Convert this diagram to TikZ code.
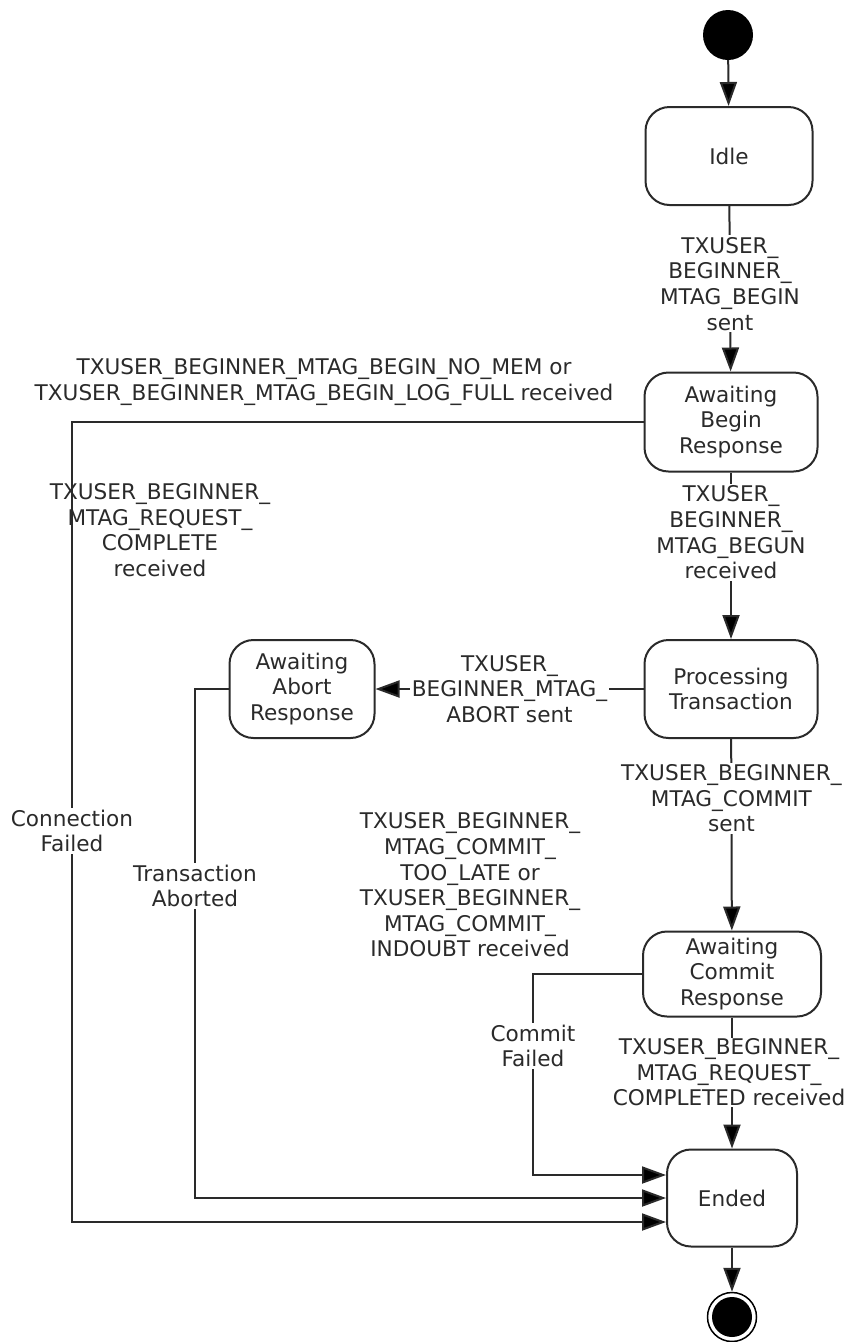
\documentclass[tikz,border=0pt]{standalone}
\usepackage{fontspec}
\setmainfont{DejaVu Sans}
\usetikzlibrary{arrows.meta}
\definecolor{ink}{HTML}{2A2A2A}
\tikzset{
  state/.style={draw=ink, line width=2pt, rounded corners=24pt, align=center, inner sep=0pt, text=ink},
  lbl/.style={align=center, text=ink, inner sep=2pt},
  wlbl/.style={lbl, fill=white},
  conn/.style={draw=ink, line width=2pt},
  arr/.style={conn, -{Triangle[length=24pt,width=17pt,fill=black]}},
}
\begin{document}
\begin{tikzpicture}[x=1pt,y=-1pt, font=\fontsize{21.6}{25.6}\selectfont]
\useasboundingbox (0,0) rectangle (845,1342);
% states
\node[circle, fill=black, minimum size=50pt, inner sep=0pt] (start) at (728,35) {};
\node[state, minimum width=167pt, minimum height=98pt] (idle) at (729,156) {Idle};
\node[state, minimum width=173pt, minimum height=99pt] (abr) at (731,422) {Awaiting\\Begin\\Response};
\node[state, minimum width=173pt, minimum height=98pt] (pt) at (731,689) {Processing\\Transaction};
\node[state, minimum width=145pt, minimum height=98pt] (aar) at (302,689) {Awaiting\\Abort\\Response};
\node[state, minimum width=178pt, minimum height=85pt] (acr) at (732,974) {Awaiting\\Commit\\Response};
\node[state, minimum width=130pt, minimum height=97pt] (ended) at (732,1198) {Ended};
\node[circle, draw=black, line width=1.5pt, minimum size=49pt, inner sep=0pt] (endo) at (732,1317) {};
\node[circle, fill=black, minimum size=40pt, inner sep=0pt] (endi) at (732,1317) {};
% coordinates
\coordinate (c1) at (72,1222);
\coordinate (c2) at (195,1198);
\coordinate (c3) at (533,1175);
% main flow
\draw[arr] (start) -- (idle);
\draw[arr] (idle) -- node[wlbl, pos=0.47] {TXUSER\_\\BEGINNER\_\\MTAG\_BEGIN\\sent} (abr);
\draw[arr] (abr) -- node[wlbl, pos=0.36] {TXUSER\_\\BEGINNER\_\\MTAG\_BEGUN\\received} (pt);
\draw[arr] (pt) -- node[wlbl, pos=0.5] {TXUSER\_\\BEGINNER\_MTAG\_\\ABORT sent} (aar);
\draw[arr] (pt) -- node[wlbl, pos=0.31] {TXUSER\_BEGINNER\_\\MTAG\_COMMIT\\sent} (acr);
\draw[arr] (acr) -- node[wlbl, pos=0.42, xshift=-3pt, inner sep=1pt] {TXUSER\_BEGINNER\_\\MTAG\_REQUEST\_\\COMPLETED received} (ended);
\draw[arr] (ended) -- (endo);
% failure paths
\draw[arr] (abr.west) -| (c1) -- (c1 -| ended.west);
\draw[arr] (aar.west) -| (c2) -- (c2 -| ended.west);
\draw[arr] (acr.west) -| (c3) -- (c3 -| ended.west);
% labels
\node[lbl] (l1) at (324,382) {TXUSER\_BEGINNER\_MTAG\_BEGIN\_NO\_MEM or\\TXUSER\_BEGINNER\_MTAG\_BEGIN\_LOG\_FULL received};
\node[lbl] (l2) at (160,530) {TXUSER\_BEGINNER\_\\MTAG\_REQUEST\_\\COMPLETE\\received};
\node[wlbl] (l3) at (72,831) {Connection\\Failed};
\node[wlbl] (l4) at (195,886) {Transaction\\Aborted};
\node[wlbl] (l5) at (533,1046) {Commit\\Failed};
\node[lbl] (l6) at (470,885) {TXUSER\_BEGINNER\_\\MTAG\_COMMIT\_\\TOO\_LATE or\\TXUSER\_BEGINNER\_\\MTAG\_COMMIT\_\\INDOUBT received};
\end{tikzpicture}
\end{document}
